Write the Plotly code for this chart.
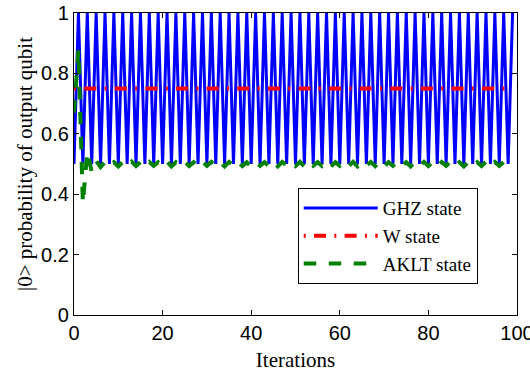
import plotly.graph_objects as go

iterations = list(range(0, 100))

ghz = [0.5, 1.0, 0.5, 1.0, 0.5, 1.0, 0.5, 1.0, 0.5, 1.0,
       0.5, 1.0, 0.5, 1.0, 0.5, 1.0, 0.5, 1.0, 0.5, 1.0,
       0.5, 1.0, 0.5, 1.0, 0.5, 1.0, 0.5, 1.0, 0.5, 1.0,
       0.5, 1.0, 0.5, 1.0, 0.5, 1.0, 0.5, 1.0, 0.5, 1.0,
       0.5, 1.0, 0.5, 1.0, 0.5, 1.0, 0.5, 1.0, 0.5, 1.0,
       0.5, 1.0, 0.5, 1.0, 0.5, 1.0, 0.5, 1.0, 0.5, 1.0,
       0.5, 1.0, 0.5, 1.0, 0.5, 1.0, 0.5, 1.0, 0.5, 1.0,
       0.5, 1.0, 0.5, 1.0, 0.5, 1.0, 0.5, 1.0, 0.5, 1.0,
       0.5, 1.0, 0.5, 1.0, 0.5, 1.0, 0.5, 1.0, 0.5, 1.0,
       0.5, 1.0, 0.5, 1.0, 0.5, 1.0, 0.5, 1.0, 0.5, 1.0]

w_state = [0.75, 0.75, 0.75, 0.75, 0.75, 0.75, 0.75, 0.75, 0.75, 0.75,
           0.75, 0.75, 0.75, 0.75, 0.75, 0.75, 0.75, 0.75, 0.75, 0.75,
           0.75, 0.75, 0.75, 0.75, 0.75, 0.75, 0.75, 0.75, 0.75, 0.75,
           0.75, 0.75, 0.75, 0.75, 0.75, 0.75, 0.75, 0.75, 0.75, 0.75,
           0.75, 0.75, 0.75, 0.75, 0.75, 0.75, 0.75, 0.75, 0.75, 0.75,
           0.75, 0.75, 0.75, 0.75, 0.75, 0.75, 0.75, 0.75, 0.75, 0.75,
           0.75, 0.75, 0.75, 0.75, 0.75, 0.75, 0.75, 0.75, 0.75, 0.75,
           0.75, 0.75, 0.75, 0.75, 0.75, 0.75, 0.75, 0.75, 0.75, 0.75,
           0.75, 0.75, 0.75, 0.75, 0.75, 0.75, 0.75, 0.75, 0.75, 0.75,
           0.75, 0.75, 0.75, 0.75, 0.75, 0.75, 0.75, 0.75, 0.75, 0.75]

aklt = [0.67, 0.878, 0.37, 0.54, 0.475, 0.51, 0.49, 0.507, 0.493, 0.506,
        0.492, 0.507, 0.494, 0.508, 0.493, 0.506, 0.492, 0.507, 0.494, 0.506,
        0.493, 0.508, 0.492, 0.506, 0.494, 0.507, 0.493, 0.506, 0.492, 0.508,
        0.494, 0.507, 0.493, 0.506, 0.492, 0.507, 0.494, 0.508, 0.493, 0.506,
        0.492, 0.507, 0.494, 0.506, 0.493, 0.508, 0.492, 0.507, 0.494, 0.506,
        0.493, 0.507, 0.492, 0.508, 0.494, 0.506, 0.493, 0.507, 0.492, 0.506,
        0.494, 0.508, 0.493, 0.507, 0.492, 0.506, 0.494, 0.507, 0.493, 0.508,
        0.492, 0.506, 0.494, 0.507, 0.493, 0.506, 0.492, 0.508, 0.494, 0.507,
        0.493, 0.506, 0.492, 0.507, 0.494, 0.508, 0.493, 0.506, 0.492, 0.507,
        0.494, 0.506, 0.493, 0.508, 0.492, 0.507, 0.494, 0.506, 0.493, 0.507]

x_ticks = [0, 20, 40, 60, 80, 100]
y_ticks = [0, 0.2, 0.4, 0.6, 0.8, 1]

serif = "Liberation Serif, Times New Roman, serif"
sans = "Liberation Sans, Arial, sans-serif"

fig = go.Figure()
fig.add_trace(go.Scatter(x=iterations, y=ghz, mode="lines", name="GHZ state",
                         line=dict(color="#0000FF", width=3)))
fig.add_trace(go.Scatter(x=iterations, y=w_state, mode="lines", name="W state",
                         line=dict(color="#FF0000", width=4, dash="2px,8.3px,12px,8.3px")))
fig.add_trace(go.Scatter(x=iterations, y=aklt, mode="lines", name="AKLT state",
                         line=dict(color="#008000", width=4, dash="12.5px,12.5px")))

axis_common = dict(
    showgrid=False, zeroline=False, showline=True, linecolor="black", linewidth=1.3,
    mirror="ticks", ticks="inside", ticklen=5, tickwidth=1, tickcolor="black",
    tickfont=dict(family=sans, size=20, color="black"),
    ticklabeloverflow="allow", automargin=False,
)

fig.update_xaxes(range=[0, 100], tickvals=x_ticks, **axis_common,
                 title=dict(text="Iterations", font=dict(family=serif, size=21, color="black"), standoff=14))
fig.update_yaxes(range=[0, 1], tickvals=y_ticks, **axis_common,
                 title=dict(text="|0> probability of output qubit", font=dict(family=serif, size=21, color="black"), standoff=2))

fig.update_layout(
    width=530, height=372,
    margin=dict(l=74, r=13, t=13, b=57, pad=0, autoexpand=False),
    paper_bgcolor="white", plot_bgcolor="white",
    showlegend=True,
    legend=dict(x=0.505, y=0.42, xanchor="left", yanchor="top",
                bgcolor="white", bordercolor="black", borderwidth=1,
                font=dict(family=serif, size=19, color="black"),
                itemwidth=74),
)

fig.write_html("out.html")
